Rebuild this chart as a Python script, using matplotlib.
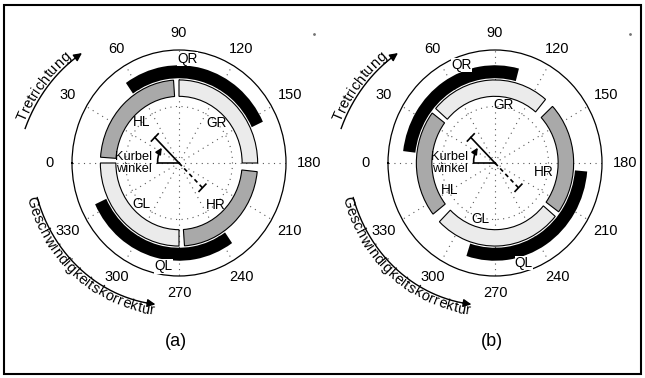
import numpy as np
import matplotlib
matplotlib.use('Agg')
import matplotlib.pyplot as plt
from matplotlib.patches import Rectangle

plt.rcParams['font.family'] = ['Liberation Sans', 'DejaVu Sans']

# crank angle grid (deg), 0 on the left, clockwise
angles = list(range(0, 360, 30))
angle_labels = [str(a) for a in angles]

# inner ring: leg phases
ring_names = ['HL', 'GR', 'HR', 'GL']
ring_colors = ['#a9a9a9', '#ebebeb', '#a9a9a9', '#ebebeb']

# outer ring: quadrant phases
quad_names = ['QR', 'QL']

# panel (a)
a_ring_start = [4, 90, 186, 270]
a_ring_end = [86, 180, 266, 360]
a_ring_label_theta = [46, 135, 227, 314]
a_ring_label_r = [0.50, 0.50, 0.51, 0.50]
a_quad_start = [55, 235]
a_quad_end = [155, 335]
a_quad_label_theta = [95, 279]

# panel (b)
b_ring_start = [-38, 41, 137, 220]
b_ring_end = [37, 130, 216, 315]
b_ring_label_theta = [331, 99, 190, 285]
b_ring_label_r = [0.49, 0.52, 0.46, 0.51]
b_quad_start = [7, 185]
b_quad_end = [105, 288]
b_quad_label_theta = [70, 253]

crank_angle = 45
crank_len = 0.32

W, H = 645, 378
RX, RY = 107, 113   # axes half size in px
fig = plt.figure(figsize=(W / 100, H / 100), dpi=100)


def tbar(ax, theta_deg, r, half=0.045, **kw):
    # short bar perpendicular to the spoke at radius r
    th = np.deg2rad(theta_deg)
    rr = np.hypot(r, half)
    d = np.arctan2(half, r)
    ax.plot([th - d, th + d], [rr, rr], **kw)


def arc_text(ax, s, th0, r0, th1, r1, fs, offset):
    # place characters one by one along the arc; offset (px) to the left of travel
    renderer = fig.canvas.get_renderer()
    th = np.deg2rad(np.linspace(th0, th1, 400))
    rr = np.linspace(r0, r1, 400)
    pts = ax.transData.transform(np.column_stack([th, rr]))
    seg = np.hypot(*np.diff(pts, axis=0).T)
    cum = np.concatenate([[0], np.cumsum(seg)])
    widths = []
    for ch in s:
        t = fig.text(0, 0, ch, fontsize=fs)
        widths.append(t.get_window_extent(renderer).width)
        t.remove()
    pos = (cum[-1] - sum(widths)) / 2
    inv = fig.transFigure.inverted()
    for ch, w in zip(s, widths):
        c = pos + w / 2
        x = np.interp(c, cum, pts[:, 0])
        y = np.interp(c, cum, pts[:, 1])
        i = int(np.clip(np.searchsorted(cum, c), 1, len(cum) - 1))
        dx, dy = pts[i] - pts[i - 1]
        n = np.hypot(dx, dy)
        x -= dy / n * offset
        y += dx / n * offset
        fx, fy = inv.transform((x, y))
        fig.text(fx, fy, ch, fontsize=fs, rotation=np.degrees(np.arctan2(dy, dx)),
                 rotation_mode='anchor', ha='center', va='baseline')
        pos += w


def arc_arrow(ax, th0, r0, th1, r1):
    th = np.deg2rad(np.linspace(th0, th1, 200))
    rr = np.linspace(r0, r1, 200)
    ax.plot(th[:-6], rr[:-6], color='k', lw=1.0, clip_on=False)
    ax.annotate('', xy=(th[-1], rr[-1]), xytext=(th[-12], rr[-12]),
                arrowprops=dict(arrowstyle='-|>', color='k', lw=1.0, mutation_scale=12,
                                shrinkA=0, shrinkB=0),
                annotation_clip=False)


def panel(cx, ring_start, ring_end, ring_lab_t, ring_lab_r,
          quad_start, quad_end, quad_lab_t, tag):
    ax = fig.add_axes([(cx - RX) / W, (H - 163 - RY) / H, 2 * RX / W, 2 * RY / H],
                      projection='polar')
    ax.set_theta_zero_location('W')
    ax.set_theta_direction(-1)
    ax.set_aspect('auto')
    ax.set_ylim(0, 1)
    ax.set_thetagrids(angles, [''] * len(angles))
    ax.set_rgrids([0.5], labels=[''])
    ax.grid(True, color='0.35', lw=0.8, ls=(0, (1, 4)))
    ax.spines['polar'].set_linewidth(0.9)
    ax.set_axisbelow(True)

    # angle labels on a round circle ~130 px from the centre
    for a, lab in zip(angles, angle_labels):
        m = np.deg2rad(180 - a)
        u = np.array([RX * np.cos(m), RY * np.sin(m)])
        u = u / np.hypot(*u) * 130 * 0.72
        ax.annotate(lab, xy=(0, 0), xytext=(u[0], u[1]), textcoords='offset points',
                    ha='center', va='center', fontsize=10.5, annotation_clip=False)

    # leg phase ring
    for name, s, e, c, lt, lr in zip(ring_names, ring_start, ring_end, ring_colors,
                                     ring_lab_t, ring_lab_r):
        ax.bar(np.deg2rad((s + e) / 2), 0.735 - 0.59, width=np.deg2rad(e - s), bottom=0.59,
               color=c, edgecolor='k', linewidth=0.8, zorder=3)
        ax.text(np.deg2rad(lt), lr, name, ha='center', va='center', fontsize=9.8, zorder=4)

    # quadrant ring
    for name, s, e, lt in zip(quad_names, quad_start, quad_end, quad_lab_t):
        ax.bar(np.deg2rad((s + e) / 2), 0.865 - 0.75, width=np.deg2rad(e - s), bottom=0.75,
               color='k', linewidth=0, zorder=3)
        ax.text(np.deg2rad(lt), 0.925, name, ha='center', va='center', fontsize=9.8, zorder=4,
                bbox=dict(facecolor='white', edgecolor='none', pad=0.2))

    # crank angle symbol
    th = np.deg2rad(crank_angle)
    ax.plot([th, th], [0, crank_len], color='k', lw=1.2, zorder=5)
    tbar(ax, crank_angle, crank_len, color='k', lw=1.2, zorder=5)
    ax.plot([th + np.pi, th + np.pi], [0, crank_len - 0.01], color='k', lw=1.2,
            ls=(0, (2.5, 2)), zorder=5)
    tbar(ax, crank_angle + 180, crank_len - 0.01, color='k', lw=1.2, zorder=5)
    ax.plot([0, 0], [0, 0.2], color='k', lw=1.2, zorder=5)
    ax.annotate('', xy=(np.deg2rad(40), 0.21), xytext=(0, 0.2),
                arrowprops=dict(arrowstyle='-|>', color='k', lw=1.2, mutation_scale=9,
                                shrinkA=0, shrinkB=0, connectionstyle='arc3,rad=-0.15'),
                zorder=5)
    ax.text(0, 0.25, 'Kurbel\nwinkel', ha='right', va='center', fontsize=9.2,
            linespacing=0.95, zorder=6)

    ax.plot([np.deg2rad(138)], [1.7], marker='.', ms=2, color='0.45', clip_on=False)

    # direction arrows with text along them
    arc_arrow(ax, 12, 1.47, 47, 1.33)
    arc_text(ax, 'Tretrichtung', 12, 1.47, 45, 1.34, 10.5, 2.5)
    arc_arrow(ax, 347, 1.36, 280, 1.27)
    arc_text(ax, 'Geschwindigkeitskorrektur', 347, 1.36, 281, 1.27, 10.5, -10.5)

    fig.text(cx / W - 3 / W, 1 - 342 / H, tag, ha='center', va='center', fontsize=13)
    return ax


fig.canvas.draw()
panel(179, a_ring_start, a_ring_end, a_ring_label_theta, a_ring_label_r,
      a_quad_start, a_quad_end, a_quad_label_theta, '(a)')
panel(495, b_ring_start, b_ring_end, b_ring_label_theta, b_ring_label_r,
      b_quad_start, b_quad_end, b_quad_label_theta, '(b)')

fig.patches.append(Rectangle((4 / W, 4 / H), 637 / W, 369 / H, transform=fig.transFigure,
                             fill=False, edgecolor='k', linewidth=1.5))

fig.savefig('out.png', dpi=100)
